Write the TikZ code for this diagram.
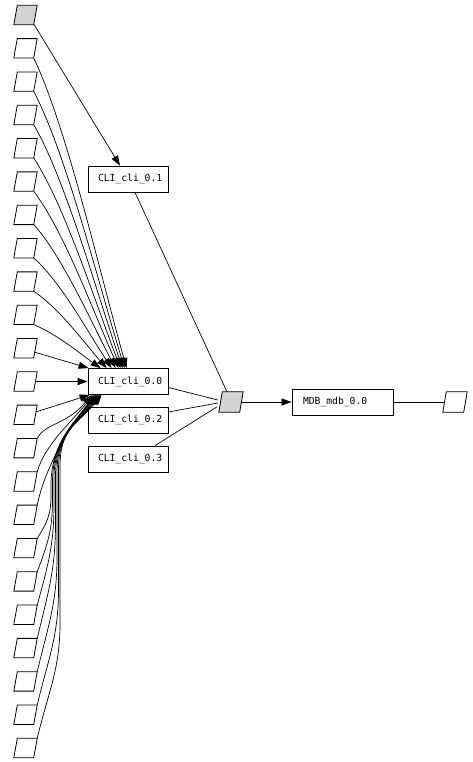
\documentclass[tikz,border=0pt]{standalone}
\usepackage{fontspec}
\setmonofont{DejaVu Sans Mono}
\usetikzlibrary{arrows.meta}
\definecolor{gfill}{HTML}{D3D3D3}
\begin{document}
\begin{tikzpicture}[x=1pt,y=-1pt,
  para/.style={rectangle, minimum width=23pt, minimum height=19pt, inner sep=0pt},
  parashape/.style={draw, line width=0.8pt, line join=miter},
  box/.style={draw, rectangle, minimum height=26pt, inner xsep=0pt, inner ysep=0pt,
    font=\ttfamily\fontsize{9.7}{10}\selectfont, line width=0.8pt},
  conn/.style={line width=0.7pt},
  arr/.style={conn, -{Triangle[length=10pt,width=7pt]}}]
\useasboundingbox (0,0) rectangle (473,762);

% left column of parallelograms
\node[para] (p0) at (25.5,15) {};
\foreach \k in {1,...,22} {
  \pgfmathsetmacro\yy{15+33.32*\k}
  \node[para] (p\k) at (25.5,\yy) {};
}

% boxes
\node[box] (c1) at (128,179) {\makebox[80pt][l]{\hspace{10pt}CLI\_cli\_0.1}};
\node[box] (c0) at (128,381.5) {\makebox[80pt][l]{\hspace{10pt}CLI\_cli\_0.0}};
\node[box] (c2) at (128,420) {\makebox[80pt][l]{\hspace{10pt}CLI\_cli\_0.2}};
\node[box] (c3) at (128,459) {\makebox[80pt][l]{\hspace{10pt}CLI\_cli\_0.3}};
\node[para, minimum width=24pt, minimum height=20pt] (g) at (231,402) {};
\node[box] (m) at (342.5,402) {\makebox[101pt][l]{\hspace{11pt}MDB\_mdb\_0.0}};
\node[para, minimum width=24pt, minimum height=20pt] (o) at (455,402) {};

% parallelogram outlines
\foreach \n/\f in {p0/gfill,g/gfill,o/white,p1/white,p2/white,p3/white,p4/white,p5/white,p6/white,p7/white,p8/white,p9/white,p10/white,p11/white,p12/white,p13/white,p14/white,p15/white,p16/white,p17/white,p18/white,p19/white,p20/white,p21/white,p22/white} {
  \draw[parashape, fill=\f] ([xshift=3.5pt]\n.north west) -- (\n.north east) -- ([xshift=-3.5pt]\n.south east) -- (\n.south west) -- cycle;
}

% top gray -> CLI_cli_0.1
\draw[arr] ([xshift=-3pt]p0.south east) -- ([xshift=-8pt]c1.north);

% upper rows -> CLI_cli_0.0
\foreach \k/\xe in {1/39,2/37,3/35,4/33,5/31,6/28,7/24,8/19,9/13} {
  \pgfmathsetmacro\hh{369-(15+33.32*\k+9.5)}
  \pgfmathsetmacro\ddx{\xe+88-33}
  \draw[arr] ([xshift=-3.5pt]p\k.south east) .. controls +(0.35*\ddx,0.22*\hh) and +(-0.28*\ddx,-0.3*\hh) .. ([xshift=\xe pt]c0.north west);
}
\draw[arr] ([xshift=-2.5pt,yshift=-4pt]p10.east) -- ([xshift=1pt]c0.north west);
\draw[arr] ([xshift=-1.75pt]p11.east) -- (c0.west);
\draw[arr] ([xshift=-1pt,yshift=3pt]p12.east) -- ([xshift=2pt]c0.south west);

% lower rows -> CLI_cli_0.0
\foreach \k in {13,14,15} {
  \pgfmathsetmacro\hh{15+33.32*\k-9.5-394.5}
  \pgfmathsetmacro\xe{4+(\k-13)*2}
  \draw[arr] (p\k.north east) .. controls +(8,-0.35*\hh) and +(-25,30) .. ([xshift=\xe pt]c0.south west);
}
\foreach \k in {16,...,22} {
  \pgfmathsetmacro\sy{15+33.32*\k-9.5}
  \pgfmathsetmacro\ny{485-(\k-16)*3}
  \pgfmathsetmacro\rise{min(115,0.8*(\sy-\ny))}
  \pgfmathsetmacro\xm{51+(\k-16)*1.5}
  \pgfmathsetmacro\my{\sy-\rise}
  \pgfmathsetmacro\ca{-0.4*\rise}
  \pgfmathsetmacro\mya{\my+0.4*\rise}
  \pgfmathsetmacro\nya{\ny-40}
  \pgfmathsetmacro\xe{8+(\k-16)*1.0}
  \draw[arr] (p\k.north east) .. controls +(11,\ca) and (\xm,\mya) .. (\xm,\my) -- (\xm,\ny) .. controls (\xm,\nya) and +(-24,30) .. ([xshift=\xe pt]c0.south west);
}

% CLI boxes -> gray hub
\draw[conn] ([xshift=7pt]c1.south) -- ([xshift=-4pt]g.north);
\draw[conn] ([yshift=-6pt]c0.east) -- ([xshift=-1pt,yshift=2pt]g.west);
\draw[conn] ([yshift=8pt]c2.east) -- ([xshift=-1pt,yshift=-1pt]g.west);
\draw[conn] ([xshift=27pt]c3.north) -- ([xshift=-2pt,yshift=-5pt]g.west);

% hub -> MDB -> out
\draw[arr] ([xshift=-1.75pt]g.east) -- (m.west);
\draw[conn] (m.east) -- ([xshift=1.75pt]o.west);
\end{tikzpicture}
\end{document}
